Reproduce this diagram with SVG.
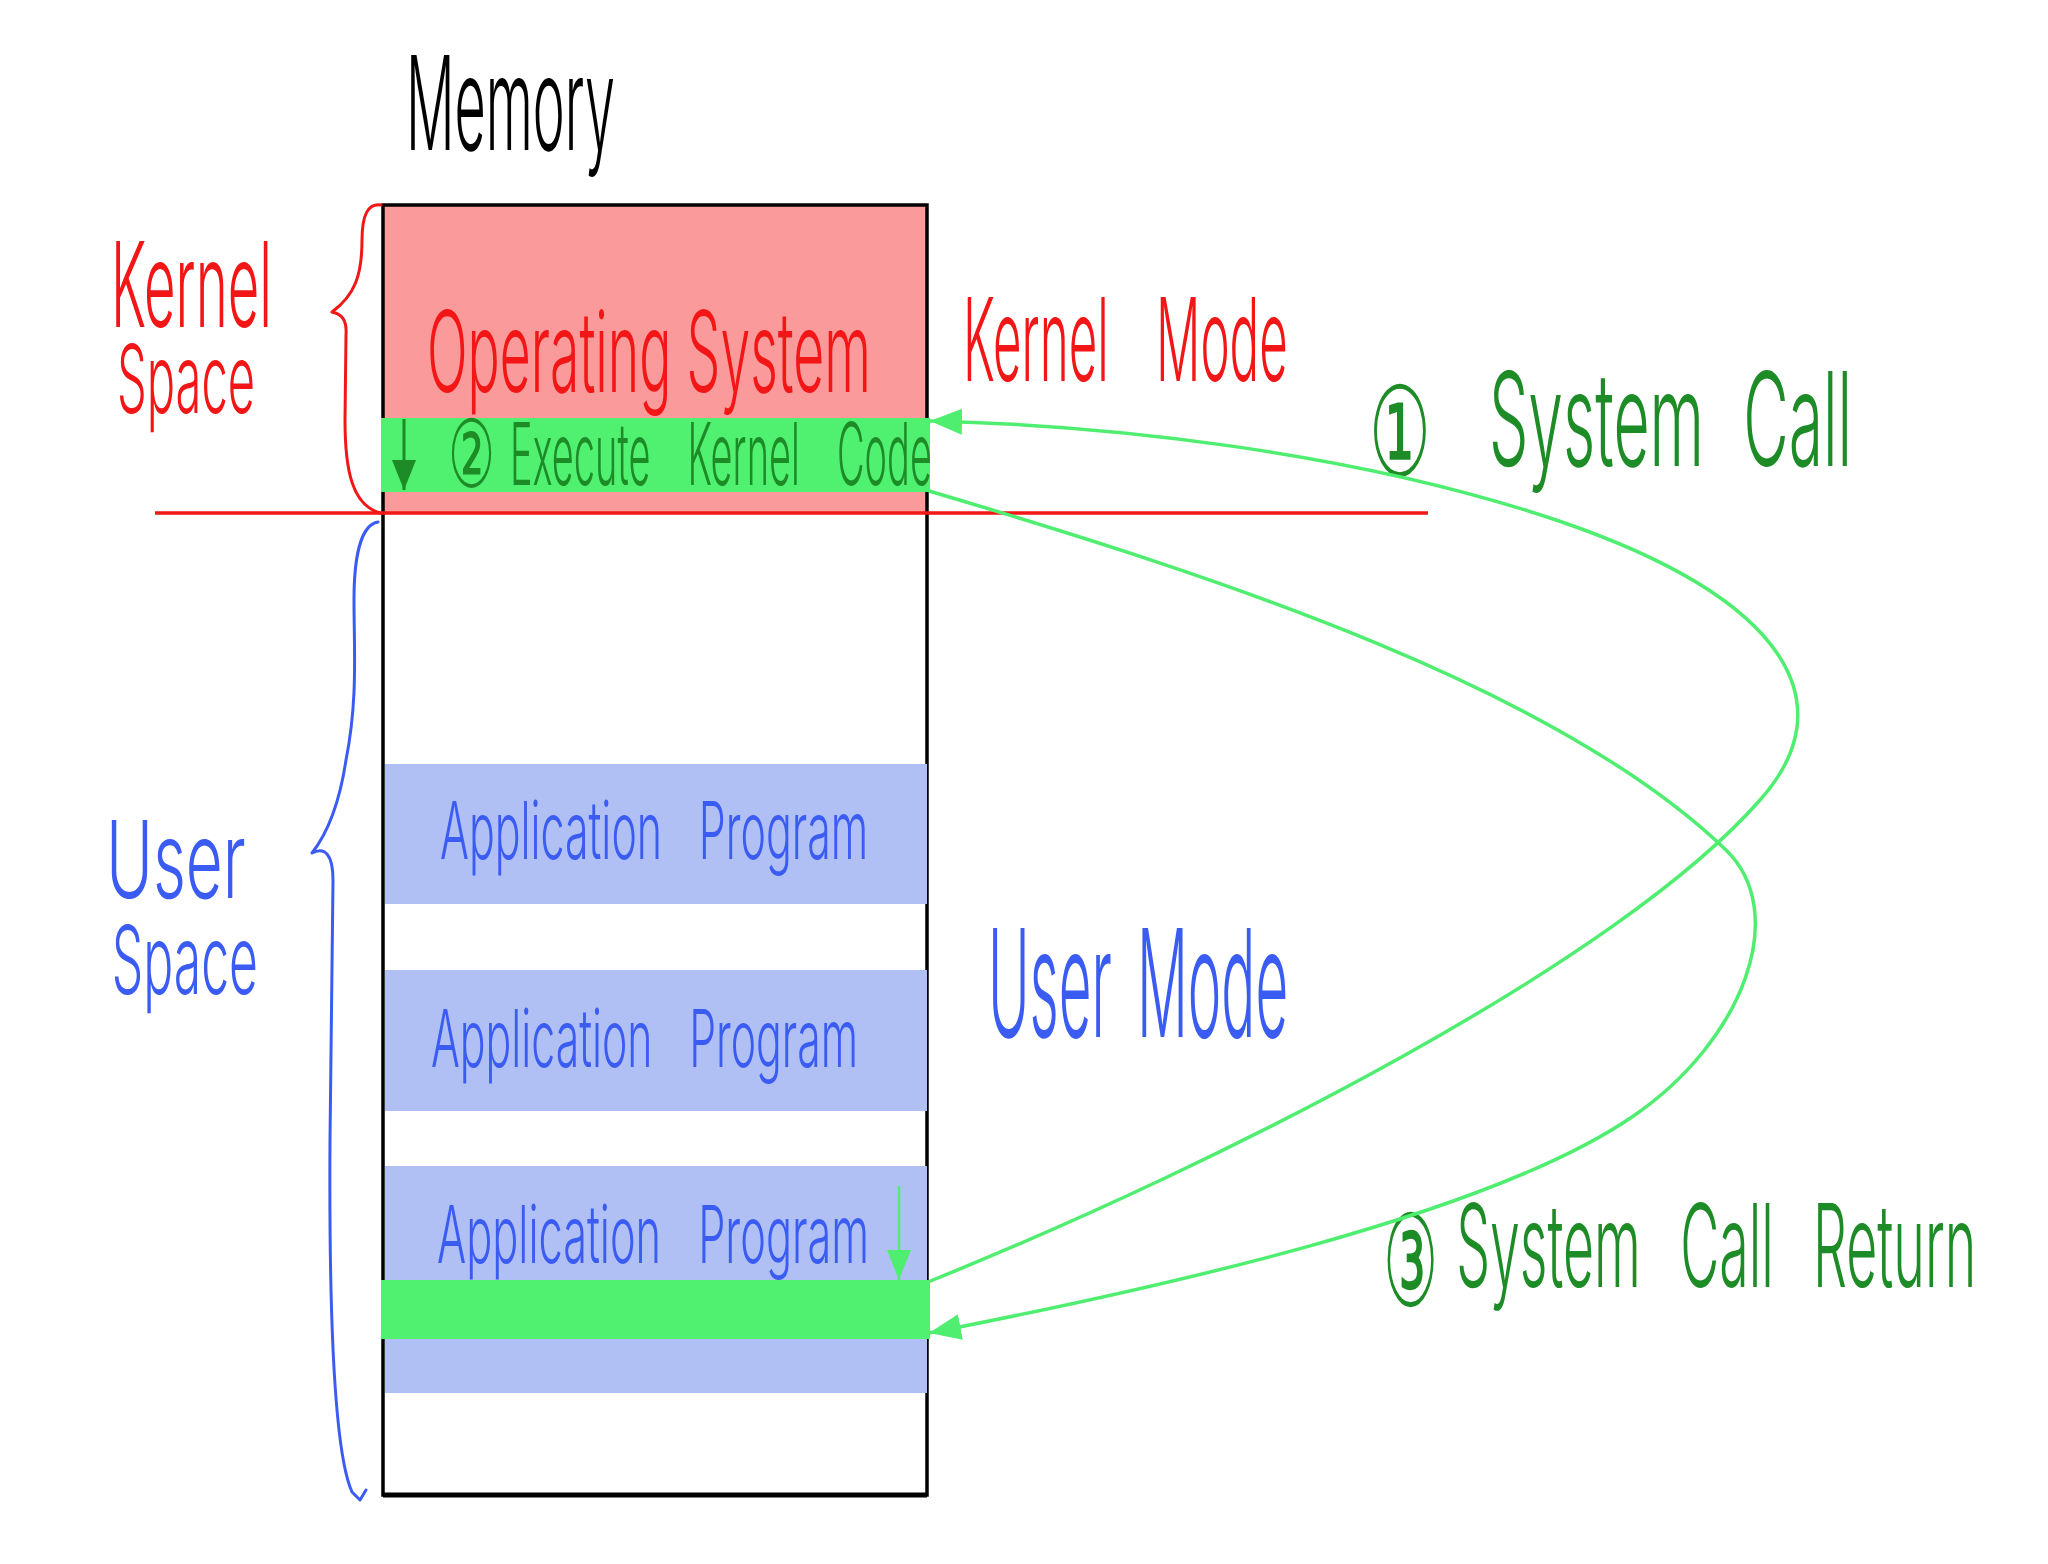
<svg xmlns="http://www.w3.org/2000/svg" width="2048" height="1564" viewBox="0 0 2048 1564">
<style>
text{font-family:"Inter","Liberation Sans Narrow","Liberation Sans",sans-serif;font-weight:300}
.circ{font-family:"DejaVu Sans",sans-serif;font-weight:400}
.red{fill:#F21616}
.blue{fill:#3A5CF2}
.dg{fill:#1D8C27}
.blk{fill:#000}
.conn{fill:none;stroke:#50EE70;stroke-width:3.5}
.brace{fill:none;stroke-width:3;stroke-linecap:round;stroke-linejoin:round}
</style>
<defs>
<marker id="ah" viewBox="0 0 10 10" refX="10" refY="5" markerWidth="32" markerHeight="26" markerUnits="userSpaceOnUse" orient="auto" preserveAspectRatio="none"><path d="M0,0 L10,5 L0,10 z" fill="#50EE70"/></marker>
<marker id="ahs" viewBox="0 0 10 10" refX="10" refY="5" markerWidth="30" markerHeight="24" markerUnits="userSpaceOnUse" orient="auto" preserveAspectRatio="none"><path d="M0,0 L10,5 L0,10 z" fill="#50EE70"/></marker>
<marker id="ahd" viewBox="0 0 10 10" refX="10" refY="5" markerWidth="30" markerHeight="24" markerUnits="userSpaceOnUse" orient="auto" preserveAspectRatio="none"><path d="M0,0 L10,5 L0,10 z" fill="#1D8C27"/></marker>
</defs>
<rect width="2048" height="1564" fill="#fff"/>

<g id="title">
<text class="blk" transform="translate(406 150) scale(0.4456 1)" font-size="130" textLength="469" lengthAdjust="spacingAndGlyphs">Memory</text>
</g>

<g id="memory-box">
<rect x="383" y="205" width="544" height="308" fill="#FA9A9A"/>
<rect x="383" y="205" width="544" height="1290" fill="none" stroke="#000" stroke-width="3.5"/>
<line x1="383" y1="1495" x2="927" y2="1495" stroke="#000" stroke-width="5"/>
</g>

<g id="operating-system">
<text class="red" transform="translate(427 392) scale(0.4955 1)" font-size="112" textLength="896" lengthAdjust="spacingAndGlyphs">Operating System</text>
</g>

<g id="execute-kernel-code">
<rect x="381" y="418" width="549" height="74" fill="#50F070"/>
<text class="dg" transform="translate(448 0) scale(0.4523 1)" font-size="86"><tspan class="circ" x="0" y="487" font-size="94" textLength="104" lengthAdjust="spacingAndGlyphs">②</tspan> <tspan x="137" y="485" word-spacing="60" textLength="933" lengthAdjust="spacingAndGlyphs">Execute Kernel Code</tspan></text>
</g>

<g id="app-program-1">
<rect x="385" y="764" width="542" height="140" fill="#B0BFF4"/>
<text class="blue" transform="translate(440 859) scale(0.559 1)" font-size="80" word-spacing="46" textLength="766" lengthAdjust="spacingAndGlyphs">Application Program</text>
</g>

<g id="app-program-2">
<rect x="385" y="970" width="542" height="141" fill="#B0BFF4"/>
<text class="blue" transform="translate(431 1067) scale(0.559 1)" font-size="80" word-spacing="46" textLength="764" lengthAdjust="spacingAndGlyphs">Application Program</text>
</g>

<g id="app-program-3">
<rect x="385" y="1166" width="542" height="227" fill="#B0BFF4"/>
<text class="blue" transform="translate(437 1263) scale(0.559 1)" font-size="80" word-spacing="46" textLength="773" lengthAdjust="spacingAndGlyphs">Application Program</text>
<rect x="381" y="1280" width="549" height="59" fill="#50F070"/>
</g>

<g id="kernel-space-label">
<path class="brace" stroke="#F21616" d="M381 205 C368 203 362 215 362 240 C362 275 355 295 332 312 C342 314 347 320 346 335 L345 420 C345 470 352 505 380 513"/>
<text class="red" transform="translate(111 0) scale(0.5 1)"><tspan x="0" y="327" font-size="118" textLength="322" lengthAdjust="spacingAndGlyphs">Kernel</tspan> <tspan x="12" y="413" font-size="95" textLength="276" lengthAdjust="spacingAndGlyphs">Space</tspan></text>
</g>

<g id="user-space-label">
<path class="brace" stroke="#3A5CF2" d="M378 522 C360 525 354 560 354 600 C354 650 358 700 346 760 C340 800 330 830 312 853 C325 846 333 855 333 880 L330 1140 C329 1300 333 1450 352 1492 L360 1500 L366 1490"/>
<text class="blue" transform="translate(106 0) scale(0.58 1)"><tspan x="0" y="898" font-size="107" textLength="241" lengthAdjust="spacingAndGlyphs">User</tspan> <tspan x="10" y="994" font-size="95" textLength="252" lengthAdjust="spacingAndGlyphs">Space</tspan></text>
</g>

<g id="boundary">
<line x1="155" y1="513" x2="1428" y2="513" stroke="#F21616" stroke-width="3.5"/>
</g>

<g id="kernel-mode-label">
<text class="red" transform="translate(963 381) scale(0.445 1)" font-size="115" word-spacing="78" textLength="730" lengthAdjust="spacingAndGlyphs">Kernel Mode</text>
</g>

<g id="user-mode-label">
<text class="blue" transform="translate(988 1037) scale(0.396 1)" font-size="150" word-spacing="24" textLength="758" lengthAdjust="spacingAndGlyphs">User Mode</text>
</g>

<g id="system-call-label">
<text class="dg" transform="translate(1369 0) scale(0.4915 1)" font-size="130"><tspan class="circ" x="0" y="476" font-size="125" textLength="126" lengthAdjust="spacingAndGlyphs">①</tspan> <tspan x="244" y="466" word-spacing="45" textLength="739" lengthAdjust="spacingAndGlyphs">System Call</tspan></text>
</g>

<g id="system-call-return-label">
<text class="dg" transform="translate(1383 0) scale(0.475 1)" font-size="115"><tspan class="circ" x="0" y="1306" font-size="128" textLength="116" lengthAdjust="spacingAndGlyphs">③</tspan> <tspan x="154" y="1287" word-spacing="52" textLength="1095" lengthAdjust="spacingAndGlyphs">System Call Return</tspan></text>
</g>

<g id="connectors">
<path class="conn" marker-end="url(#ah)" d="M928 1282 C1230 1160 1620 960 1760 800 C1845 705 1790 600 1559 521 C1350 450 1100 425 930 421"/>
<path class="conn" marker-end="url(#ah)" d="M929 491 C1230 580 1560 690 1726 850 C1790 912 1745 1040 1632 1117 C1485 1217 1150 1290 929 1333"/>
<line x1="404" y1="419" x2="404" y2="490" stroke="#1D8C27" stroke-width="3" marker-end="url(#ahd)"/>
<line x1="899" y1="1186" x2="899" y2="1280" stroke="#50EE70" stroke-width="2.5" marker-end="url(#ahs)"/>
</g>
</svg>
